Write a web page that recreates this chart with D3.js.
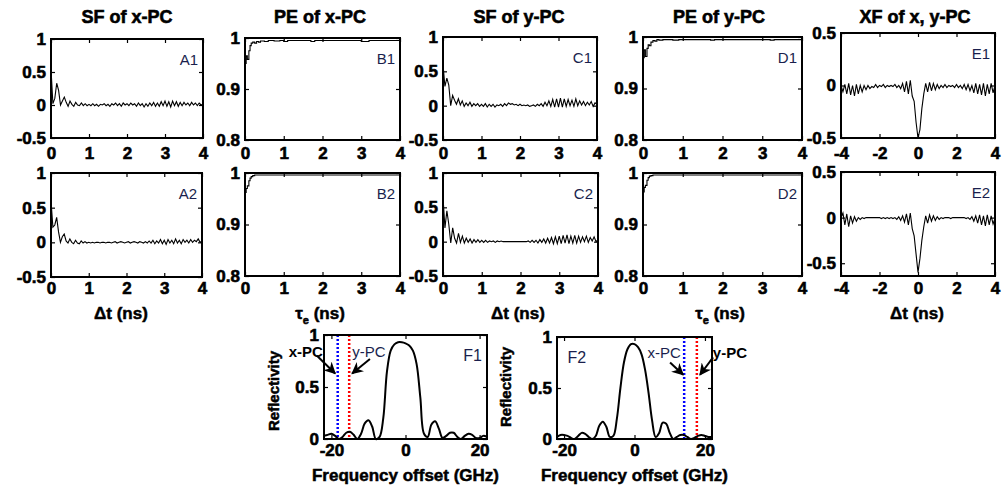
<!DOCTYPE html>
<meta charset="utf-8">
<style>
body { margin: 0; background: #fff; }
svg { display: block; }
text { font-family: "Liberation Sans", Arial, sans-serif; }
.tk text { font-size: 17px; font-weight: bold; fill: #000; stroke: #000; stroke-width: 0.6px; }
.title { font-size: 18px; font-weight: bold; stroke: #000; stroke-width: 0.6px; }
.xlab { font-size: 17px; font-weight: bold; stroke: #000; stroke-width: 0.5px; }
.plab { font-size: 15px; fill: #1a1f4d; }
.trace { fill: none; stroke: #000; }
</style>
<svg width="1003" height="492"></svg>
<script src="https://d3js.org/d3.v7.min.js"></script>
<script>

// sample spacing of the correlation traces
var sfStep = 0.05;   // ns, SF panels
var xfStep = 0.1;    // ns, XF panels

// SF of x-PC / y-PC, t = 0 .. 4 ns
var sfA1 = [0.55, 0.02, 0.10, 0.33, 0.22, 0.00, 0.06, 0.12, 0.04, -0.02, 0.06, 0.01, -0.02, 0.04, 0.00, -0.01, 0.03, -0.01, 0.02, -0.01,
  0.01, -0.01, 0.02, -0.01, 0.01, -0.02, 0.01, 0.00, 0.02, -0.01,
  0.01, -0.02, 0.02, 0.00, 0.03, -0.01, 0.02, -0.02, 0.03, 0.00,
  0.02, -0.01, 0.03, 0.00, 0.02, -0.02, 0.03, -0.01, 0.02, -0.03,
  0.02, -0.02, 0.03, -0.01, 0.04, -0.02, 0.03, -0.02, 0.05, -0.01,
  0.06, -0.02, 0.05, -0.03, 0.06, -0.01, 0.05, -0.02, 0.04, -0.01,
  0.04, 0.00, 0.03, -0.01, 0.04, 0.00, 0.03, -0.01, 0.03, 0.00, 0.01];
var sfA2 = [0.60, 0.22, 0.25, 0.36, 0.15, 0.00, 0.08, 0.12, 0.02, -0.01, 0.05, 0.00, -0.02, 0.03, -0.01, -0.02, 0.02, -0.01, 0.01, -0.01,
  0.00, -0.01, 0.00, -0.01, 0.00, 0.00, -0.01, 0.00, 0.00, -0.01,
  0.00, 0.00, -0.01, 0.00, 0.01, -0.01, 0.00, 0.01, 0.00, -0.01,
  0.00, 0.01, -0.01, 0.00, 0.01, 0.00, -0.01, 0.01, 0.00, -0.01,
  0.01, -0.01, 0.02, -0.01, 0.03, -0.02, 0.02, -0.01, 0.04, -0.02,
  0.03, -0.03, 0.04, -0.01, 0.03, -0.02, 0.05, -0.01, 0.03, -0.02,
  0.04, 0.00, 0.03, -0.01, 0.04, 0.00, 0.03, 0.01, 0.05, 0.00, 0.02];
var sfC1 = [0.60, 0.28, 0.40, 0.30, 0.00, 0.15, 0.08, 0.02, 0.10, 0.01, 0.07, -0.01, 0.04, 0.00, 0.05, -0.01, 0.03, 0.00, 0.03, -0.01,
  0.02, -0.01, 0.03, -0.02, 0.02, -0.01, 0.02, -0.02, 0.01, 0.00,
  0.02, -0.01, 0.03, 0.00, 0.04, 0.02, 0.03, 0.01, 0.02, 0.00,
  0.02, 0.00, 0.01, 0.00, 0.01, -0.01, 0.00, 0.01, -0.01, 0.02,
  0.00, 0.03, -0.01, 0.05, 0.00, 0.07, -0.01, 0.09, -0.02, 0.10,
  -0.02, 0.11, -0.02, 0.10, -0.01, 0.09, 0.00, 0.08, -0.01, 0.10,
  0.00, 0.07, 0.01, 0.06, 0.00, 0.05, 0.01, 0.06, -0.01, 0.04, 0.02];
var sfC2 = [0.65, 0.20, 0.45, 0.25, -0.02, 0.20, 0.05, -0.02, 0.12, -0.01, 0.08, -0.02, 0.05, -0.01, 0.04, -0.02, 0.03, -0.01, 0.03, -0.01,
  0.02, -0.01, 0.02, -0.01, 0.01, 0.00, 0.01, -0.01, 0.01, 0.00,
  0.01, 0.00, 0.00, 0.00, 0.00, 0.00, 0.00, 0.00, 0.00, 0.00,
  0.00, 0.00, 0.00, 0.00, 0.01, -0.01, 0.02, -0.01, 0.02, -0.02,
  0.03, -0.01, 0.04, -0.02, 0.05, -0.02, 0.06, -0.03, 0.07, -0.03,
  0.08, -0.03, 0.09, -0.02, 0.10, -0.03, 0.08, -0.02, 0.09, -0.02,
  0.08, -0.01, 0.07, 0.00, 0.08, -0.01, 0.06, 0.01, 0.07, 0.00, 0.03];

// PE of x-PC / y-PC versus embedding delay
var peTime = [0, 0.03, 0.06, 0.1, 0.13, 0.16, 0.2, 0.25, 0.3, 0.35, 0.4, 0.5, 0.6, 0.75, 0.9, 1.0, 1.1, 1.5, 1.7, 1.8, 2.1, 2.5, 2.9, 3.0, 3.2, 3.3, 3.5, 4.0];
var peB1 = [0.950, 0.965, 0.958, 0.975, 0.985, 0.990, 0.992, 0.990, 0.993, 0.992, 0.994, 0.993, 0.995, 0.994, 0.995, 0.993, 0.995, 0.995, 0.993, 0.995, 0.995, 0.995, 0.995, 0.993, 0.995, 0.995, 0.995, 0.995];
var peB2 = [0.962, 0.970, 0.975, 0.985, 0.990, 0.993, 0.995, 0.996, 0.996, 0.996, 0.996, 0.996, 0.996, 0.996, 0.996, 0.996, 0.996, 0.996, 0.996, 0.996, 0.996, 0.996, 0.996, 0.996, 0.996, 0.996, 0.996, 0.996];
var peD1 = [0.960, 0.975, 0.962, 0.978, 0.985, 0.983, 0.990, 0.993, 0.992, 0.995, 0.994, 0.995, 0.995, 0.994, 0.995, 0.995, 0.995, 0.995, 0.994, 0.995, 0.995, 0.995, 0.995, 0.995, 0.994, 0.995, 0.995, 0.995];
var peD2 = [0.963, 0.972, 0.976, 0.986, 0.991, 0.994, 0.995, 0.996, 0.996, 0.996, 0.996, 0.996, 0.996, 0.996, 0.996, 0.996, 0.996, 0.996, 0.996, 0.996, 0.996, 0.996, 0.996, 0.996, 0.996, 0.996, 0.996, 0.996];

// XF of x, y-PC, lag = -4 .. 4 ns
var xfE1 = [0.00, -0.06, 0.01, -0.08, 0.02, -0.09, 0.00, -0.10, 0.01, -0.08,
  0.00, -0.06, 0.00, -0.04, 0.00, -0.03, -0.01, -0.02, 0.01, -0.02,
  0.00, -0.01, 0.01, -0.02, 0.00, -0.01, 0.00, -0.01, 0.01, -0.02,
  0.00, -0.03, 0.02, -0.06, 0.04, -0.08, 0.05, -0.10, -0.15, -0.35,
  -0.50, -0.42, -0.22, -0.08, 0.02, -0.06, 0.03, -0.05, 0.02, -0.04,
  0.01, -0.03, 0.00, -0.02, 0.01, -0.02, 0.00, -0.01, 0.00, -0.02,
  0.01, -0.02, 0.00, -0.03, 0.01, -0.04, 0.01, -0.05, 0.00, -0.07,
  0.02, -0.08, 0.01, -0.09, 0.02, -0.10, 0.01, -0.08, 0.02, -0.07, 0.00];
var xfE2 = [0.00, 0.05, -0.08, 0.04, -0.10, 0.02, -0.06, 0.01, -0.04, 0.00,
  -0.02, 0.00, -0.01, 0.00, 0.00, 0.00, 0.00, 0.00, 0.00, 0.00,
  0.00, -0.01, 0.00, -0.01, 0.00, -0.01, 0.00, -0.01, 0.00, -0.02,
  0.01, -0.03, 0.02, -0.05, 0.04, -0.08, 0.05, -0.12, -0.20, -0.40,
  -0.60, -0.45, -0.25, -0.10, 0.02, -0.06, 0.03, -0.04, 0.02, -0.03,
  0.01, -0.02, 0.00, -0.01, 0.00, 0.00, 0.00, -0.01, 0.00, 0.00,
  0.00, 0.00, 0.00, 0.00, 0.00, -0.01, 0.00, -0.02, 0.01, -0.04,
  0.02, -0.06, 0.03, -0.08, 0.02, -0.09, 0.03, -0.08, 0.02, -0.07, -0.01];

// FBG reflectivity spectra, offset -22 .. 22 GHz
var freqGHz = [-22, -21, -20, -19, -18, -17, -16, -15, -14, -13, -12, -11, -10, -9, -8, -7, -6, -5, -4, -3, -2, -1,
  0, 1, 2, 3, 4, 5, 6, 7, 8, 9, 10, 11, 12, 13, 14, 15, 16, 17, 18, 19, 20, 21, 22];
var reflF1 = [0.03, 0.04, 0.05, 0.03, 0.00, 0.02, 0.06, 0.07, 0.04, 0.00, 0.05, 0.15, 0.18, 0.12, 0.00, 0.02, 0.20, 0.65, 0.85, 0.91, 0.93, 0.93,
  0.92, 0.90, 0.85, 0.72, 0.40, 0.05, 0.02, 0.14, 0.17, 0.10, 0.01, 0.03, 0.06, 0.06, 0.02, 0.00, 0.03, 0.05, 0.04, 0.01, 0.01, 0.03, 0.02];
var reflF2 = [0.02, 0.04, 0.04, 0.03, 0.01, 0.00, 0.03, 0.06, 0.05, 0.02, 0.00, 0.03, 0.13, 0.17, 0.12, 0.02, 0.03, 0.20, 0.50, 0.75, 0.88, 0.93,
  0.93, 0.90, 0.83, 0.68, 0.45, 0.18, 0.02, 0.06, 0.16, 0.15, 0.06, 0.00, 0.02, 0.04, 0.04, 0.02, 0.00, 0.01, 0.03, 0.04, 0.03, 0.02, 0.02];
// x-PC and y-PC carrier positions (GHz)
var pcF1 = [-18.3, -15.2];
var pcF2 = [14.1, 17.7];

// tick values
var tTicks = [0, 1, 2, 3, 4];
var sfTicks = [-0.5, 0, 0.5, 1];
var peTicks = [0.8, 0.9, 1];
var lagTicks = [-4, -2, 0, 2, 4];
var xfTicks = [-0.5, 0, 0.5];
var fTicks = [-20, 0, 20];
var rTicks = [0, 0.5, 1];

// matlab-style labels: plain hyphen, no trailing zeros
var fmt = function(d) { return String(d); };

var svg = d3.select("svg");

svg.append("defs").append("marker")
    .attr("id", "ah")
    .attr("viewBox", "0 0 10 10")
    .attr("refX", 9).attr("refY", 5)
    .attr("markerWidth", 6).attr("markerHeight", 6)
    .attr("markerUnits", "strokeWidth")
    .attr("orient", "auto")
  .append("path")
    .attr("d", "M0,0 L10,5 L0,10 L3,5 Z")
    .attr("fill", "#000");

function series(xs, ys) {
  return ys.map(function(v, i) { return [xs[i], v]; });
}
function even(step, start, ys) {
  return ys.map(function(v, i) { return [start + i * step, v]; });
}

function panel(o) {
  var g = svg.append("g");
  var x = d3.scaleLinear().domain(o.xd).range([o.l, o.r]);
  var y = d3.scaleLinear().domain(o.yd).range([o.b, o.t]);

  var line = d3.line()
      .x(function(d) { return x(d[0]); })
      .y(function(d) { return y(d[1]); })
      .curve(o.curve || d3.curveLinear);

  (o.extra || function() {})(g, x, y);

  g.append("path")
      .datum(o.data)
      .attr("class", "trace")
      .style("stroke-width", (o.sw || 1.1) + "px")
      .attr("d", line);

  g.append("rect")
      .attr("x", o.l).attr("y", o.t)
      .attr("width", o.r - o.l).attr("height", o.b - o.t)
      .attr("fill", "none").attr("stroke", "#000").attr("stroke-width", 2);

  var ax = [
    [d3.axisBottom(x).tickValues(o.xt).tickFormat(fmt).tickPadding(o.xpad), "translate(0," + o.b + ")"],
    [d3.axisTop(x).tickValues(o.xt).tickFormat(""), "translate(0," + o.t + ")"],
    [d3.axisLeft(y).tickValues(o.yt).tickFormat(fmt).tickPadding(5), "translate(" + o.l + ",0)"],
    [d3.axisRight(y).tickValues(o.yt).tickFormat(""), "translate(" + o.r + ",0)"]
  ];
  ax.forEach(function(a) {
    var s = g.append("g").attr("class", "tk").attr("transform", a[1])
        .call(a[0].tickSizeInner(-4).tickSizeOuter(0));
    s.select(".domain").remove();
    s.selectAll("line").attr("stroke", "#000").attr("stroke-width", 1.2);
    s.attr("font-size", null).attr("font-family", null);
  });

  g.append("text").attr("class", "plab")
      .attr("x", o.r - 5).attr("y", o.t + 26)
      .attr("text-anchor", "end")
      .style("font-size", o.plSize || "15px")
      .text(o.name);
  return {x: x, y: y, g: g};
}

// --- titles
var titles = ["SF of x-PC", "PE of x-PC", "SF of y-PC", "PE of y-PC", "XF of x, y-PC"];
var titleX = [127, 320, 519, 719, 915];
svg.selectAll(".title").data(titles).enter().append("text")
    .attr("class", "title")
    .attr("x", function(d, i) { return titleX[i]; })
    .attr("y", 23)
    .attr("text-anchor", "middle")
    .text(function(d) { return d; });

// --- row 1
panel({name: "A1", l: 51, r: 203, t: 39, b: 138, xd: [0, 4], yd: [-0.5, 1], xt: tTicks, yt: sfTicks, xpad: 9, data: even(sfStep, 0, sfA1)});
panel({name: "B1", l: 245, r: 400, t: 38, b: 140, xd: [0, 4], yd: [0.8, 1], xt: tTicks, yt: peTicks, xpad: 7, data: series(peTime, peB1), curve: d3.curveStepAfter});
panel({name: "C1", l: 443, r: 597, t: 37, b: 140, xd: [0, 4], yd: [-0.5, 1], xt: tTicks, yt: sfTicks, xpad: 7, data: even(sfStep, 0, sfC1)});
panel({name: "D1", l: 643, r: 802, t: 37, b: 140, xd: [0, 4], yd: [0.8, 1], xt: tTicks, yt: peTicks, xpad: 7, data: series(peTime, peD1), curve: d3.curveStepAfter});
panel({name: "E1", l: 841, r: 995, t: 33, b: 138, xd: [-4, 4], yd: [-0.5, 0.5], xt: lagTicks, yt: xfTicks, xpad: 9, data: even(xfStep, -4, xfE1)});

// --- row 2
panel({name: "A2", l: 51, r: 202, t: 173, b: 277, xd: [0, 4], yd: [-0.5, 1], xt: tTicks, yt: sfTicks, xpad: 5, data: even(sfStep, 0, sfA2)});
panel({name: "B2", l: 245, r: 400, t: 173, b: 276, xd: [0, 4], yd: [0.8, 1], xt: tTicks, yt: peTicks, xpad: 6, data: series(peTime, peB2), curve: d3.curveStepAfter});
panel({name: "C2", l: 443, r: 598, t: 173, b: 276, xd: [0, 4], yd: [-0.5, 1], xt: tTicks, yt: sfTicks, xpad: 6, data: even(sfStep, 0, sfC2)});
panel({name: "D2", l: 643, r: 802, t: 173, b: 276, xd: [0, 4], yd: [0.8, 1], xt: tTicks, yt: peTicks, xpad: 6, data: series(peTime, peD2), curve: d3.curveStepAfter});
panel({name: "E2", l: 841, r: 995, t: 172, b: 276, xd: [-4, 4], yd: [-0.64, 0.5], xt: lagTicks, yt: xfTicks, xpad: 6, data: even(xfStep, -4, xfE2)});

// --- row 2 axis labels
var xLabCx = [121, 320, 518, 720, 917];
xLabCx.forEach(function(cx, i) {
  var t = svg.append("text").attr("class", "xlab")
      .attr("x", cx).attr("y", 319).attr("text-anchor", "middle");
  if (i % 2 === 0) {
    t.text("\u0394t (ns)");
  } else {
    t.append("tspan").text("\u03c4");
    t.append("tspan").attr("baseline-shift", "-5").style("font-size", "11px").text("e");
    t.append("tspan").text(" (ns)");
  }
});

// --- spectra
function markers(pc) {
  return function(g, x, y) {
    g.selectAll(".pc").data(pc).enter().append("line")
        .attr("x1", function(d) { return x(d); }).attr("x2", function(d) { return x(d); })
        .attr("y1", y(1)).attr("y2", y(0))
        .attr("stroke", function(d, i) { return i === 0 ? "#0000ff" : "#ff0000"; })
        .attr("stroke-width", 2.5)
        .attr("stroke-dasharray", "2,2");
  };
}

var f1 = panel({name: "F1", l: 324, r: 487, t: 335, b: 439, xd: [-22, 22], yd: [0, 1], xt: fTicks, yt: rTicks, xpad: 5, sw: 2,
  plSize: "16px", data: series(freqGHz, reflF1), curve: d3.curveCatmullRom, extra: markers(pcF1)});
var f2 = panel({name: "F2", l: 557, r: 712, t: 337, b: 439, xd: [-22, 22], yd: [0, 1], xt: fTicks, yt: rTicks, xpad: 5, sw: 2,
  plSize: "16px", data: series(freqGHz, reflF2), curve: d3.curveCatmullRom, extra: markers(pcF2)});
f2.g.select(".plab").attr("x", f2.x(-19)).attr("text-anchor", "start");

function note(p, label, bold, tx, ty, ax0, ay0, ax1, ay1) {
  p.g.append("text")
      .attr("x", p.x(tx)).attr("y", p.y(ty))
      .attr("dy", "0.35em").attr("text-anchor", "middle")
      .style("font-size", "15px")
      .style("font-weight", bold ? "bold" : "normal")
      .attr("fill", bold ? "#000" : "#1a1f4d")
      .text(label);
  p.g.append("line")
      .attr("x1", p.x(ax0)).attr("y1", p.y(ay0))
      .attr("x2", p.x(ax1)).attr("y2", p.y(ay1))
      .attr("stroke", "#000").attr("stroke-width", 2)
      .attr("marker-end", "url(#ah)");
}
note(f1, "x-PC", true, -26.9, 0.84, -23.9, 0.8, -19.0, 0.63);
note(f1, "y-PC", false, -9.9, 0.84, -9.6, 0.77, -14.4, 0.63);
note(f2, "x-PC", false, 8.4, 0.85, 10.1, 0.75, 13.8, 0.63);
note(f2, "y-PC", true, 27.1, 0.85, 22.3, 0.8, 18.6, 0.63);

[[f1, 274, 391], [f2, 506, 387]].forEach(function(p) {
  svg.append("text").attr("class", "xlab")
      .attr("transform", "translate(" + p[1] + "," + p[2] + ") rotate(-90)")
      .attr("text-anchor", "middle").attr("dy", "0.35em")
      .style("font-size", "15px")
      .text("Reflectivity");
  svg.append("text").attr("class", "xlab")
      .attr("x", (p[0].x.range()[0] + p[0].x.range()[1]) / 2).attr("y", 481)
      .attr("text-anchor", "middle")
      .text("Frequency offset (GHz)");
});

</script>
